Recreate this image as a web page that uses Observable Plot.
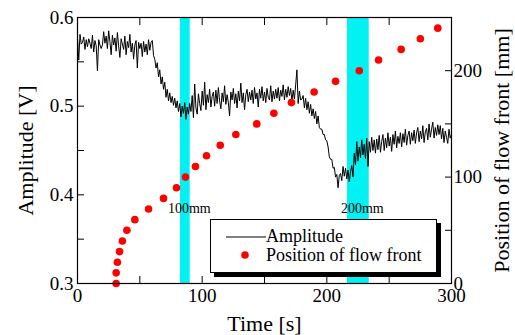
<!DOCTYPE html>
<html>
<head>
<meta charset="utf-8">
<script src="https://cdn.jsdelivr.net/npm/d3@7"></script>
<script src="https://cdn.jsdelivr.net/npm/@observablehq/plot@0.6"></script>
<style>
  html, body { margin: 0; padding: 0; background: #fff; }
  #wrap { position: relative; width: 515px; height: 335px; font-family: 'Liberation Serif', 'Times New Roman', Times, serif; }
  #wrap svg text { font-family: 'Liberation Serif', 'Times New Roman', Times, serif !important; }
  #legend { position: absolute; left: 210px; top: 219px; width: 225px; height: 52px; background: #fff; border: 1px solid #000; box-shadow: 4px 4px 0 #000; font-size: 18px; color: #000; font-family: 'Liberation Serif', 'Times New Roman', Times, serif; }
  .row { position: absolute; left: 15px; height: 20px; display: flex; align-items: center; white-space: nowrap; }
</style>
</head>
<body>
<div id="wrap"></div>
<script>
// Amplitude [V], sampled once per second from t = 0 s
const amplitude = [
  0.577,0.552,0.581,0.570,0.572,0.578,0.564,0.575,0.567,0.576,
  0.571,0.565,0.580,0.561,0.574,0.568,0.540,0.575,0.569,0.565,
  0.569,0.584,0.571,0.579,0.565,0.585,0.573,0.558,0.580,0.569,
  0.577,0.562,0.583,0.568,0.555,0.576,0.570,0.564,0.579,0.558,
  0.573,0.566,0.581,0.561,0.571,0.553,0.569,0.574,0.543,0.572,
  0.565,0.571,0.556,0.573,0.561,0.570,0.558,0.575,0.563,0.572,
  0.574,0.557,0.553,0.543,0.549,0.533,0.541,0.525,0.533,0.519,
  0.527,0.510,0.519,0.506,0.515,0.504,0.511,0.501,0.509,0.498,
  0.506,0.494,0.503,0.488,0.500,0.492,0.504,0.485,0.499,0.491,
  0.503,0.494,0.512,0.487,0.525,0.498,0.491,0.514,0.503,0.495,
  0.517,0.501,0.527,0.496,0.513,0.504,0.519,0.499,0.511,0.516,
  0.500,0.518,0.503,0.521,0.506,0.497,0.515,0.505,0.523,0.502,
  0.513,0.504,0.489,0.516,0.507,0.520,0.503,0.514,0.498,0.517,
  0.506,0.526,0.504,0.515,0.496,0.513,0.519,0.505,0.516,0.507,
  0.518,0.503,0.521,0.508,0.515,0.499,0.519,0.509,0.522,0.506,
  0.516,0.504,0.520,0.510,0.507,0.523,0.505,0.517,0.508,0.519,
  0.509,0.521,0.506,0.518,0.511,0.524,0.507,0.519,0.510,0.522,
  0.512,0.520,0.506,0.518,0.508,0.524,0.541,0.503,0.517,0.507,
  0.508,0.512,0.498,0.509,0.496,0.505,0.492,0.502,0.489,0.497,
  0.486,0.494,0.480,0.489,0.476,0.474,0.474,0.468,0.468,0.462,
  0.461,0.454,0.443,0.440,0.440,0.430,0.431,0.420,0.423,0.408,
  0.422,0.424,0.416,0.432,0.421,0.430,0.418,0.428,0.415,0.426,
  0.433,0.420,0.447,0.434,0.460,0.438,0.454,0.442,0.462,0.445,
  0.457,0.441,0.464,0.432,0.460,0.448,0.465,0.450,0.462,0.447,
  0.463,0.451,0.467,0.448,0.460,0.468,0.450,0.464,0.453,0.470,
  0.455,0.465,0.449,0.468,0.457,0.472,0.453,0.466,0.458,0.470,
  0.454,0.469,0.459,0.474,0.456,0.467,0.472,0.457,0.470,0.461,
  0.473,0.458,0.470,0.476,0.460,0.472,0.463,0.478,0.459,0.471,
  0.475,0.462,0.480,0.465,0.474,0.482,0.464,0.476,0.467,0.479,
  0.468,0.478,0.463,0.475,0.459,0.472,0.465,0.458,0.474,0.464,
  0.468
];

// Position of flow front
const frontTime = [31,31,32,33.7,36,39.6,46,57,69,79.4,86.6,94.6,103.5,114.5,127,143.8,157.5,171.6,189.8,207,226,241.5,259.6,275,289];
const frontPos  = [0,10,20,30,40,50,60,70,80,90,100,110,120,130,140,150,160,170,180,190,200,210,220,230,240];

// Sensor bands
const bandStart = [82.6, 216.6];
const bandEnd   = [90.4, 234.0];
const bandLabel = ["100mm", "200mm"];
const bandLabelY = [0.380, 0.380];

// Ticks
const xTicks = [0,50,100,150,200,250,300];
const xLabels = [0,100,200,300];
const yTicks = [0.3,0.35,0.4,0.45,0.5,0.55,0.6];
const yLabels = [0.3,0.4,0.5,0.6];
const mmTicks = [0,50,100,150,200,250];
const mmLabels = [0,100,200];

const ampDomain = [0.3, 0.6];
const mmDomain = [0, 250];
const mmToAmp = mm => ampDomain[0] + (mm - mmDomain[0]) * (ampDomain[1] - ampDomain[0]) / (mmDomain[1] - mmDomain[0]);
const ampToMm = a => Math.round((a - ampDomain[0]) * (mmDomain[1] - mmDomain[0]) / (ampDomain[1] - ampDomain[0]));

const ampData = amplitude.map((v, i) => ({t: i, v}));
const frontData = frontTime.map((t, i) => ({t, pos: frontPos[i], y: mmToAmp(frontPos[i])}));
const bands = bandStart.map((s, i) => ({s, e: bandEnd[i], label: bandLabel[i], x: (s + bandEnd[i]) / 2, y: bandLabelY[i]}));

const font = "'Liberation Serif', 'Times New Roman', Times, serif";
const chart = Plot.plot({
  width: 515,
  height: 335,
  marginLeft: 77,
  marginRight: 64,
  marginTop: 17,
  marginBottom: 52,
  style: {fontFamily: font, background: "#fff", color: "#000", overflow: "visible"},
  x: {domain: [0, 300]},
  y: {domain: ampDomain},
  marks: [
    Plot.rect(bands, {x1: "s", x2: "e", fill: "#00f2f2"}),
    Plot.line(ampData, {x: "t", y: "v", stroke: "#000", strokeWidth: 1}),
    Plot.dot(frontData, {x: "t", y: "y", r: 3.8, fill: "#ff0000", stroke: null}),
    Plot.text(bands, {x: "x", y: "y", text: "label", fontSize: 14, dx: 4, lineAnchor: "bottom", fill: "#000"}),
    Plot.frame({stroke: "#000", strokeWidth: 1.2}),
    // inward ticks
    Plot.axisX(xTicks, {anchor: "bottom", tickSize: -7, tickFormat: () => "", label: null}),
    Plot.axisX(xTicks, {anchor: "top", tickSize: -7, tickFormat: () => "", label: null}),
    Plot.axisY(yTicks, {anchor: "left", tickSize: -7, tickFormat: () => "", label: null}),
    Plot.axisY(mmTicks.map(mmToAmp), {anchor: "right", tickSize: -7, tickFormat: () => "", label: null}),
    // tick labels and titles
    Plot.axisX(xLabels, {anchor: "bottom", tickSize: 0, tickPadding: 5, fontSize: 19,
      label: "Time [s]", labelAnchor: "center", labelArrow: "none", labelOffset: 47}),
    Plot.axisY(yLabels, {anchor: "left", tickSize: 0, tickPadding: 4, fontSize: 19, tickFormat: d3.format(".1f"),
      label: "Amplitude [V]", labelAnchor: "center", labelArrow: "none", labelOffset: 60}),
    Plot.axisY(mmLabels.map(mmToAmp), {anchor: "right", tickSize: 0, tickPadding: 2, fontSize: 19, tickFormat: ampToMm,
      label: "Position of flow front [mm]", labelAnchor: "center", labelArrow: "none", labelOffset: 57})
  ]
});

const wrap = document.getElementById("wrap");
wrap.appendChild(chart);

// axis titles are a bit larger than tick labels
chart.querySelectorAll("g[aria-label='x-axis label'] text, g[aria-label='y-axis label'] text").forEach(t => t.setAttribute("font-size", 22));

const legend = document.createElement("div");
legend.id = "legend";
legend.innerHTML =
  '<div class="row" style="top:6px"><svg width="40" height="20"><line x1="0" x2="40" y1="11" y2="11" stroke="#000" stroke-width="1"/></svg><span>Amplitude</span></div>' +
  '<div class="row" style="top:25px"><svg width="40" height="20"><circle cx="19" cy="10" r="3.8" fill="#ff0000"/></svg><span>Position of flow front</span></div>';
wrap.appendChild(legend);
</script>
</body>
</html>
